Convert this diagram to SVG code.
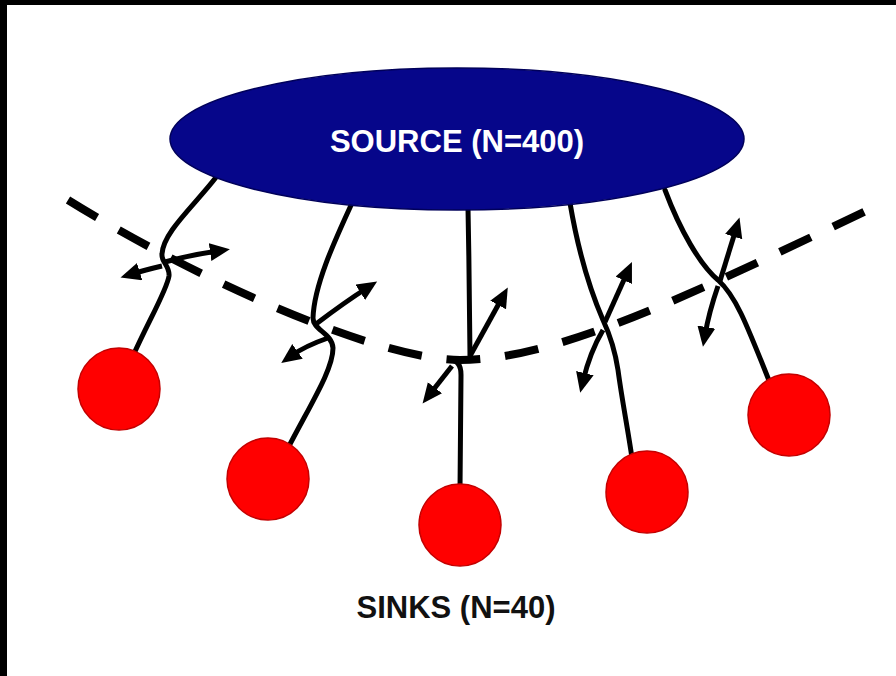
<svg xmlns="http://www.w3.org/2000/svg" width="896" height="676" viewBox="0 0 896 676">
  <style>
    .wire { fill: none; stroke: #000; stroke-width: 5; stroke-linecap: round; stroke-linejoin: round; }
    .flux { fill: none; stroke: #000; stroke-width: 5; marker-end: url(#head); }
    .barrier { fill: none; stroke: #000; stroke-width: 8; stroke-dasharray: 34 25; }
    .sink { fill: #ff0000; stroke: #c40000; stroke-width: 1.5; }
    .label { font-family: "Liberation Sans", Arial, sans-serif; font-weight: bold; font-size: 31px; text-anchor: middle; }
  </style>
  <defs>
    <marker id="head" markerUnits="userSpaceOnUse" markerWidth="22" markerHeight="20" refX="8" refY="9" orient="auto">
      <path d="M0,0 L20,9 L0,18 z" fill="#000"/>
    </marker>
  </defs>

  <rect width="896" height="676" fill="#fff"/>
  <!-- frame edges -->
  <rect x="0" y="0" width="896" height="5" fill="#000"/>
  <rect x="0" y="0" width="7" height="676" fill="#000"/>

  <g id="connectors">
    <!-- dashed boundary -->
    <path class="barrier" d="M68,200 C200,282 380,360 460,360 C560,360 700,290 868,210"/>
    <!-- wires from source to sinks -->
    <path class="wire" d="M217,176 C195,205 163,232 162,254 C161,262 170,266 169,276 C167,290 148,322 133,356"/>
    <path class="wire" d="M352,203 C335,240 314,285 313,318 C313,330 332,333 333,348 C333,370 310,405 287,450"/>
    <path class="wire" d="M468,208 C469,260 470,330 470,356"/>
    <path class="wire" d="M450,360 Q461,360 461,375 L460,490"/>
    <path class="wire" d="M570,203 C578,250 590,290 603,320 C610,335 615,350 618,370 C622,400 628,430 632,458"/>
    <path class="wire" d="M665,190 C680,230 700,265 718,280 C735,295 745,320 770,383"/>
    <!-- exchange arrows at the crossings -->
    <path class="flux" d="M165,262 Q190,255 218,251"/>
    <path class="flux" d="M162,266 Q145,270 132,274"/>
    <path class="flux" d="M316,324 Q345,302 367,288"/>
    <path class="flux" d="M328,338 Q305,346 291,356"/>
    <path class="flux" d="M470,356 L502,298"/>
    <path class="flux" d="M452,366 L430,394"/>
    <path class="flux" d="M605,322 L627,273"/>
    <path class="flux" d="M603,330 Q590,352 583,381"/>
    <path class="flux" d="M720,281 L736,229"/>
    <path class="flux" d="M718,286 Q709,312 705,335"/>
  </g>

  <g id="source">
    <ellipse cx="457" cy="139" rx="287" ry="71" fill="#06068a" stroke="#00005a" stroke-width="1.5"/>
    <text class="label" x="457" y="152" fill="#fff">SOURCE (N=400)</text>
  </g>

  <g id="sink1"><circle class="sink" cx="119" cy="389" r="41"/></g>
  <g id="sink2"><circle class="sink" cx="268" cy="479" r="41"/></g>
  <g id="sink3"><circle class="sink" cx="460" cy="525" r="41"/></g>
  <g id="sink4"><circle class="sink" cx="647" cy="492" r="41"/></g>
  <g id="sink5"><circle class="sink" cx="789" cy="415" r="41"/></g>

  <g id="sinks-label">
    <text class="label" x="456" y="618" fill="#111">SINKS (N=40)</text>
  </g>
</svg>
